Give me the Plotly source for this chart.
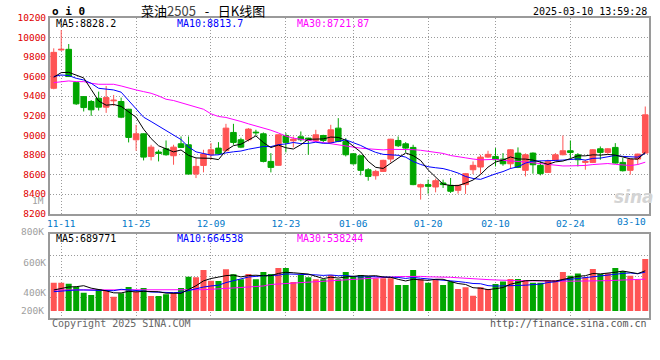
import plotly.graph_objects as go
import pandas as pd

# ---------------- data ----------------
dates = [
    "2024-11-08", "2024-11-11", "2024-11-12", "2024-11-13", "2024-11-14", "2024-11-15",
    "2024-11-18", "2024-11-19", "2024-11-20", "2024-11-21", "2024-11-22",
    "2024-11-25", "2024-11-26", "2024-11-27", "2024-11-28", "2024-11-29",
    "2024-12-02", "2024-12-03", "2024-12-04", "2024-12-05", "2024-12-06",
    "2024-12-09", "2024-12-10", "2024-12-11", "2024-12-12", "2024-12-13",
    "2024-12-16", "2024-12-17", "2024-12-18", "2024-12-19", "2024-12-20",
    "2024-12-23", "2024-12-24", "2024-12-25", "2024-12-26", "2024-12-27",
    "2024-12-30", "2024-12-31", "2025-01-02", "2025-01-03",
    "2025-01-06", "2025-01-07", "2025-01-08", "2025-01-09", "2025-01-10",
    "2025-01-13", "2025-01-14", "2025-01-15", "2025-01-16", "2025-01-17",
    "2025-01-20", "2025-01-21", "2025-01-22", "2025-01-23", "2025-01-24",
    "2025-01-27", "2025-02-05", "2025-02-06", "2025-02-07",
    "2025-02-10", "2025-02-11", "2025-02-12", "2025-02-13", "2025-02-14",
    "2025-02-17", "2025-02-18", "2025-02-19", "2025-02-20", "2025-02-21",
    "2025-02-24", "2025-02-25", "2025-02-26", "2025-02-27", "2025-02-28",
    "2025-03-03", "2025-03-04", "2025-03-05", "2025-03-06", "2025-03-07",
    "2025-03-10",
]

opens = [9480, 9872, 9878, 9538, 9395, 9345, 9378, 9287, 9352, 9345,
         9266, 8954, 9015, 8784, 8829, 8862, 8791, 8913, 8903, 8604,
         8692, 8801, 8869, 8842, 9029, 8954, 8954, 9032, 9015, 8733,
         8693, 8998, 8944, 8985, 8971, 8947, 8998, 8927, 9073, 8937,
         8811, 8791, 8648, 8587, 8631, 8757, 8947, 8913, 8876, 8472,
         8496, 8472, 8513, 8489, 8438, 8496, 8648, 8676, 8777, 8784,
         8757, 8709, 8818, 8642, 8818, 8693, 8621, 8744, 8801, 8842,
         8801, 8723, 8723, 8862, 8825, 8876, 8723, 8642, 8757, 8818]
highs = [9888, 10075, 9932, 9545, 9400, 9360, 9446, 9504, 9412, 9385,
         9270, 9106, 9020, 8903, 8852, 8947, 8903, 8988, 8988, 8767,
         8852, 8920, 8930, 9117, 9117, 8975, 9073, 9056, 9029, 8818,
         9010, 9022, 8988, 9039, 8975, 9056, 9005, 9107, 9175, 8971,
         8815, 8801, 8665, 8648, 8750, 8964, 8988, 8930, 8903, 8506,
         8547, 8557, 8547, 8564, 8494, 8615, 8733, 8801, 8842, 8869,
         8818, 8859, 8876, 8815, 8825, 8733, 8750, 8818, 8998, 8947,
         8818, 8750, 8859, 8886, 8869, 8920, 8767, 8760, 8812, 9294]
lows = [9470, 9862, 9595, 9310, 9243, 9199, 9253, 9229, 9300, 9175,
        8927, 8842, 8743, 8743, 8733, 8791, 8699, 8870, 8600, 8563,
        8621, 8750, 8805, 8838, 8903, 8869, 8937, 8995, 8723, 8621,
        8690, 8825, 8876, 8937, 8801, 8937, 8930, 8920, 8930, 8784,
        8699, 8591, 8536, 8547, 8625, 8723, 8880, 8825, 8490, 8343,
        8404, 8417, 8462, 8411, 8404, 8401, 8604, 8608, 8770, 8682,
        8689, 8655, 8665, 8580, 8608, 8591, 8615, 8735, 8795, 8767,
        8682, 8648, 8716, 8750, 8810, 8710, 8630, 8597, 8699, 8815]
closes = [9847, 9878, 9600, 9321, 9283, 9260, 9287, 9385, 9358, 9185,
          8978, 9015, 8777, 8879, 8815, 8801, 8879, 8876, 8604, 8682,
          8808, 8852, 8811, 9073, 8927, 8879, 9063, 9026, 8733, 8672,
          9005, 8927, 8961, 8954, 8947, 9005, 8947, 9056, 8937, 8801,
          8709, 8642, 8580, 8631, 8744, 8960, 8893, 8869, 8496, 8496,
          8479, 8536, 8496, 8428, 8489, 8608, 8693, 8777, 8805, 8750,
          8709, 8852, 8672, 8801, 8699, 8608, 8733, 8801, 8842, 8825,
          8750, 8733, 8852, 8825, 8862, 8716, 8638, 8757, 8808, 9209]
volumes = [465000, 465000, 458000, 438000, 399000, 383000, 423000, 412000, 372000, 395000,
           436000, 405000, 430000, 377000, 377000, 388000, 399000, 430000, 505000, 501000,
           549000, 478000, 476000, 554000, 521000, 487000, 523000, 487000, 536000, 523000,
           562000, 562000, 470000, 516000, 501000, 487000, 487000, 516000, 487000, 536000,
           505000, 516000, 505000, 494000, 494000, 494000, 450000, 450000, 549000, 487000,
           465000, 487000, 450000, 472000, 423000, 434000, 379000, 434000, 423000, 456000,
           472000, 489000, 489000, 483000, 465000, 465000, 483000, 483000, 536000, 511000,
           525000, 501000, 556000, 523000, 527000, 562000, 542000, 511000, 483000, 622000]

# moving-average values before a full window is available
ma5_head = [9593, 9640, 9643, 9616]
ma10_head = [9600, 9616, 9610, 9582, 9565, 9531, 9480, 9473, 9463]
ma30_head = [9538, 9548, 9555, 9548, 9548, 9531, 9521, 9521, 9521, 9504,
             9480, 9463, 9446, 9429, 9402, 9368, 9355, 9334, 9311, 9287,
             9266, 9219, 9192, 9182, 9165, 9141, 9117, 9097, 9073]
vma5_head = [416600, 425200, 436400, 438400]
vma10_head = [405300, 409900, 416600, 416600, 416600, 416600, 414600, 411900, 411900]
vma30_head = [416600, 416600, 416600, 416600, 416600, 416600, 416600, 416600, 416600, 416600,
              416600, 416600, 416600, 416600, 416600, 414600, 414600, 414600, 414600, 414600,
              418500, 421200, 423200, 426500, 429800, 433100, 436400, 439700, 443000]

tick_dates = ["2024-11-11", "2024-11-25", "2024-12-09", "2024-12-23",
              "2025-01-06", "2025-01-20", "2025-02-10", "2025-02-24"]
tick_labels = ["11-11", "11-25", "12-09", "12-23", "01-06", "01-20", "02-10", "02-24"]
last_label = "03-10"
price_ticks = [8200, 8400, 8600, 8800, 9000, 9200, 9400, 9600, 9800, 10000, 10200]
price_tick_labels = [str(v) for v in price_ticks]
vol_ticks = [400000, 600000]
vol_tick_labels = ["400K", "600K"]

title_text = ("菜油<span style='color:#444'>2505</span>"
              "&nbsp;&nbsp;&nbsp;-&nbsp;&nbsp;&nbsp;日K线图")
time_text = "2025-03-10 13:59:28"
ma_texts = ["MA5:8828.2", "MA10:8813.7", "MA30:8721.87"]
vma_texts = ["MA5:689771", "MA10:664538", "MA30:538244"]


def moving_avg(vals, window, head):
    s = pd.Series(vals, dtype=float).rolling(window).mean()
    s.iloc[:len(head)] = head
    return s.tolist()


ma5 = moving_avg(closes, 5, ma5_head)
ma10 = moving_avg(closes, 10, ma10_head)
ma30 = moving_avg(closes, 30, ma30_head)
vma5 = moving_avg(volumes, 5, vma5_head)
vma10 = moving_avg(volumes, 10, vma10_head)
vma30 = moving_avg(volumes, 30, vma30_head)

# ---------------- styling / layout helpers ----------------
W, H = 660, 360
def px(x):
    return x / W
def py(y):
    return 1 - y / H

UP = "#ff5454"
DOWN = "#00a600"
MA_COLORS = ["#000000", "#0000ff", "#ff00ff"]
MONO = "DejaVu Sans Mono"
GRID = "#9a9a9a"
FRAME = "#9a9a9a"
DOTS = "1px,2px"

VOL_LOW, VOL_HIGH = 229000, 785500   # visible volume range
VOL_BASE = 277500                    # where volume bars start

fig = go.Figure()

fig.add_trace(go.Candlestick(
    x=dates, open=opens, high=highs, low=lows, close=closes,
    increasing=dict(line=dict(color=UP, width=1), fillcolor=UP),
    decreasing=dict(line=dict(color=DOWN, width=1), fillcolor=DOWN),
    whiskerwidth=0, showlegend=False, hoverinfo="skip",
    xaxis="x", yaxis="y",
))
for series, col in zip([ma30, ma10, ma5], [MA_COLORS[2], MA_COLORS[1], MA_COLORS[0]]):
    fig.add_trace(go.Scatter(x=dates, y=series, mode="lines",
                             line=dict(color=col, width=1), showlegend=False,
                             hoverinfo="skip", xaxis="x", yaxis="y"))

vol_colors = [UP if c >= o else DOWN for o, c in zip(opens, closes)]
fig.add_trace(go.Bar(
    x=dates, y=[v - VOL_BASE for v in volumes], base=VOL_BASE,
    marker=dict(color=vol_colors, line=dict(width=0)), width=0.8,
    showlegend=False, hoverinfo="skip", xaxis="x2", yaxis="y2",
))
for series, col in zip([vma30, vma10, vma5], [MA_COLORS[2], MA_COLORS[1], MA_COLORS[0]]):
    fig.add_trace(go.Scatter(x=dates, y=series, mode="lines",
                             line=dict(color=col, width=1), showlegend=False,
                             hoverinfo="skip", xaxis="x2", yaxis="y2"))

n = len(dates)
xdomain = [px(50), px(649)]
common_x = dict(
    type="category", domain=xdomain, range=[-0.5, n - 0.5],
    tickmode="array", tickvals=tick_dates, ticktext=tick_labels,
    showgrid=True, gridcolor=GRID, griddash=DOTS, gridwidth=1,
    showline=True, linecolor=FRAME, linewidth=2, mirror=True,
    ticks="", zeroline=False, fixedrange=True, automargin=False,
)
vq = [VOL_LOW + (VOL_HIGH - VOL_LOW) * k / 4 for k in (1, 2, 3)]

fig.update_layout(
    width=W, height=H, margin=dict(l=0, r=0, t=0, b=0, autoexpand=False),
    paper_bgcolor="white", plot_bgcolor="white",
    boxgap=0.25, boxgroupgap=0,
    showlegend=False,
    xaxis=dict(common_x, anchor="y",
               tickfont=dict(family=MONO, size=9.5, color="#0078c8"),
               rangeslider=dict(visible=False)),
    yaxis=dict(domain=[py(213.7), py(17.7)], range=[8199, 10201],
               tickmode="array", tickvals=price_ticks, ticktext=price_tick_labels,
               tickfont=dict(family=MONO, size=9.5, color="#e00000"),
               showgrid=True, gridcolor=GRID, griddash=DOTS, gridwidth=1,
               showline=True, linecolor=FRAME, linewidth=2, mirror=True,
               ticks="", zeroline=False, anchor="x", fixedrange=True,
               automargin=False),
    xaxis2=dict(common_x, anchor="y2", matches="x", showticklabels=False),
    yaxis2=dict(domain=[py(318.3), py(234.3)], range=[VOL_LOW, VOL_HIGH],
                tickmode="array", tickvals=vol_ticks, ticktext=vol_tick_labels,
                tickfont=dict(family=MONO, size=9.5, color="#a0a0a0"),
                showgrid=False,
                minor=dict(tickmode="array", tickvals=vq, showgrid=True,
                           gridcolor=GRID, griddash=DOTS, gridwidth=1, ticks=""),
                showline=True, linecolor=FRAME, linewidth=2, mirror=True,
                ticks="", zeroline=False, anchor="x2", fixedrange=True,
                automargin=False),
)

ann = []
def text(x, y, s, color="#000", size=10, anchor="left", family=MONO, **kw):
    ann.append(dict(x=px(x), y=py(y), xref="paper", yref="paper", text=s,
                    showarrow=False, xanchor=anchor, yanchor="middle",
                    font=dict(family=family, size=size, color=color), **kw))

text(50, 12, "<b>o i 0</b>", size=11)
text(139, 10.5, title_text, size=13, family="Noto Sans CJK SC")
text(649, 11.7, time_text, anchor="right")
for s, x0, col in zip(ma_texts, [54, 175, 295], MA_COLORS):
    text(x0, 23.7, s, color=col)
for s, x0, col in zip(vma_texts, [54, 175, 295], MA_COLORS):
    text(x0, 238, s, color=col)
text(46, 200, "1M", color="#a0a0a0", size=9.5, anchor="right")
text(46, 231, "800K", color="#a0a0a0", size=9.5, anchor="right")
text(46, 310.3, "200K", color="#a0a0a0", size=9.5, anchor="right")
text(50, 323.7, "Copyright 2025 SINA.COM", color="#666666")
text(649, 323.7, "http://finance.sina.com.cn", color="#555555", anchor="right")
text(634, 197, "<b><i>sina</i></b>", color="#d4d4d4", size=17, anchor="center",
     family="DejaVu Sans")
ann.append(dict(x=dates[-1], xref="x", y=py(221), yref="paper", text=last_label,
                showarrow=False, xanchor="right", yanchor="middle", xshift=3,
                font=dict(family=MONO, size=9.5, color="#0078c8")))
fig.update_layout(annotations=ann)

fig.write_html("out.html", config={"displayModeBar": False},
               post_script="document.body.style.margin='0';document.body.style.padding='0';")
